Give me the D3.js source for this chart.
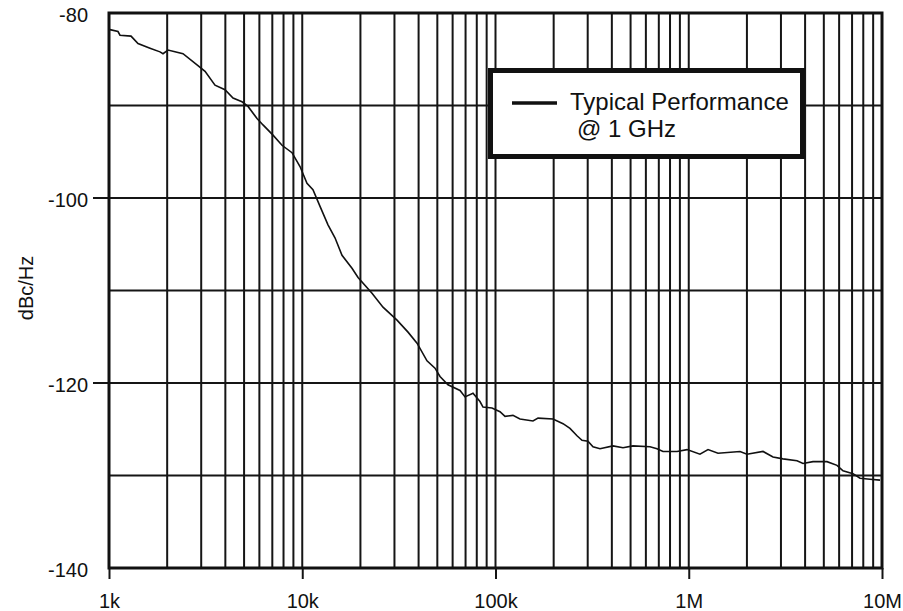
<!DOCTYPE html>
<html>
<head>
<meta charset="utf-8">
<script src="https://cdn.jsdelivr.net/npm/d3@7/dist/d3.min.js"></script>
<style>
  html, body { margin: 0; padding: 0; background: #fff; }
  svg { display: block; }
  text { font-family: "Liberation Sans", Arial, sans-serif; fill: #111; }
</style>
</head>
<body>
<svg id="chart" width="903" height="611"></svg>
<script>
// ---- Data ----
const xTickValues = [1e3, 1e4, 1e5, 1e6, 1e7];
const xTickLabels = ["1k", "10k", "100k", "1M", "10M"];
const yTickValues = [-80, -100, -120, -140];
const yTickLabels = ["-80", "-100", "-120", "-140"];
const yGridValues = [-90, -100, -110, -120, -130];
const yAxisTitle = "dBc/Hz";
const legendLabel = ["Typical Performance", "@ 1 GHz"];

// offset frequency (Hz)
const freq = [1012, 1113, 1140, 1300, 1413, 1630, 1836, 1903, 2020, 2415,
  2854, 3140, 3536, 3983, 4383, 4877, 5241, 5833, 6266, 7058,
  7857, 8851, 9736, 10580, 11360, 12360, 13590, 14770, 16060, 18090,
  19440, 22960, 26170, 30930, 35260, 39260, 44210, 48640, 51620, 56790,
  65520, 69540, 76480, 83130, 86150, 95920, 105500, 112000, 123100, 133900,
  156300, 166000, 198400, 223600, 242900, 264100, 280300, 301000, 319500, 347300,
  405500, 456900, 514600, 630200, 685100, 735800, 869600, 979300, 1143000, 1258000,
  1417000, 1842000, 2002000, 2423000, 2729000, 3074000, 3633000, 3902000, 4395000, 5193000,
  5850000, 6284000, 7078000, 7693000, 8667000, 9766000];
// phase noise (dBc/Hz)
const noise = [-81.8, -82.0, -82.4, -82.5, -83.3, -83.8, -84.2, -84.4, -84.0, -84.4,
  -85.6, -86.3, -87.8, -88.3, -89.2, -89.6, -90.1, -91.4, -92.1, -93.2,
  -94.3, -95.1, -96.6, -98.4, -99.1, -100.9, -102.9, -104.3, -106.2, -107.6,
  -108.6, -110.3, -111.8, -113.2, -114.5, -115.7, -117.6, -118.4, -119.3, -120.2,
  -120.8, -121.5, -121.1, -122.0, -122.6, -122.7, -123.1, -123.6, -123.5, -123.9,
  -124.1, -123.8, -123.9, -124.4, -124.9, -125.7, -126.2, -126.3, -126.9, -127.1,
  -126.8, -127.0, -126.8, -126.9, -127.1, -127.4, -127.4, -127.2, -127.7, -127.2,
  -127.6, -127.4, -127.7, -127.4, -128.0, -128.2, -128.4, -128.7, -128.5, -128.5,
  -128.9, -129.5, -129.8, -130.3, -130.4, -130.5];

// ---- Layout ----
const mLeft = 109, mRight = 882, mTop = 13, mBottom = 568;
const svg = d3.select("#chart");

const x = d3.scaleLog().domain([1e3, 1e7]).range([mLeft, mRight]);
const y = d3.scaleLinear().domain([-140, -80]).range([mBottom, mTop]);

// minor + major vertical grid
const vGrid = [];
for (let d = 1e3; d < 1e7; d *= 10) for (let m = 1; m <= 9; m++) vGrid.push(d * m);
vGrid.push(1e7);

const grid = svg.append("g");
grid.selectAll("line.v").data(vGrid).join("line").attr("class", "v")
  .attr("x1", d => x(d)).attr("x2", d => x(d))
  .attr("y1", mTop).attr("y2", mBottom)
  .attr("stroke", "#151515").attr("stroke-width", 2);
grid.selectAll("line.h").data(yGridValues).join("line").attr("class", "h")
  .attr("x1", mLeft).attr("x2", mRight)
  .attr("y1", d => y(d)).attr("y2", d => y(d))
  .attr("stroke", "#151515").attr("stroke-width", 2);

// x axis ticks + labels
const xAxis = d3.axisBottom(x).tickValues(xTickValues)
  .tickFormat((d, i) => xTickLabels[i]).tickSize(11).tickPadding(15);
const gx = svg.append("g").attr("transform", `translate(0,${mBottom})`).call(xAxis);
gx.select(".domain").remove();
gx.selectAll(".tick line").attr("stroke", "#151515").attr("stroke-width", 2);
gx.selectAll(".tick text").attr("font-size", 20).attr("fill", "#111")
  .attr("font-family", '"Liberation Sans", Arial, sans-serif');

// y axis ticks + labels
const yAxis = d3.axisLeft(y).tickValues(yTickValues)
  .tickFormat((d, i) => yTickLabels[i]).tickSize(0).tickPadding(21);
const gy = svg.append("g").attr("transform", `translate(${mLeft},0)`).call(yAxis);
gy.select(".domain").remove();
gy.selectAll(".tick text").attr("font-size", 20).attr("fill", "#111").attr("dy", "0.42em")
  .attr("font-family", '"Liberation Sans", Arial, sans-serif');
gy.selectAll(".tick line").remove();
// short outer ticks at interior labeled values
svg.append("g").selectAll("line").data([-100, -120]).join("line")
  .attr("x1", mLeft - 16).attr("x2", mLeft)
  .attr("y1", d => y(d)).attr("y2", d => y(d))
  .attr("stroke", "#151515").attr("stroke-width", 2);

// y axis title
svg.append("text")
  .attr("transform", `translate(33,288) rotate(-90)`)
  .attr("text-anchor", "middle")
  .attr("font-size", 20)
  .text(yAxisTitle);

// curve
const pts = freq.map((f, i) => [f, noise[i]]);
svg.append("path")
  .datum(pts)
  .attr("fill", "none")
  .attr("stroke", "#111")
  .attr("stroke-width", 1.6)
  .attr("d", d3.line().x(d => x(d[0])).y(d => y(d[1])));

// plot border
svg.append("rect")
  .attr("x", mLeft).attr("y", mTop)
  .attr("width", mRight - mLeft).attr("height", mBottom - mTop)
  .attr("fill", "none").attr("stroke", "#111").attr("stroke-width", 3);

// legend
const lg = svg.append("g");
lg.append("rect")
  .attr("x", 490.5).attr("y", 70.5).attr("width", 312).attr("height", 86)
  .attr("fill", "#fff").attr("stroke", "#111").attr("stroke-width", 5);
lg.append("line")
  .attr("x1", 512).attr("x2", 557).attr("y1", 103).attr("y2", 103)
  .attr("stroke", "#111").attr("stroke-width", 3.5);
lg.append("text").attr("x", 570).attr("y", 110).attr("font-size", 24).text(legendLabel[0]);
lg.append("text").attr("x", 577).attr("y", 137).attr("font-size", 24).text(legendLabel[1]);
</script>
</body>
</html>
